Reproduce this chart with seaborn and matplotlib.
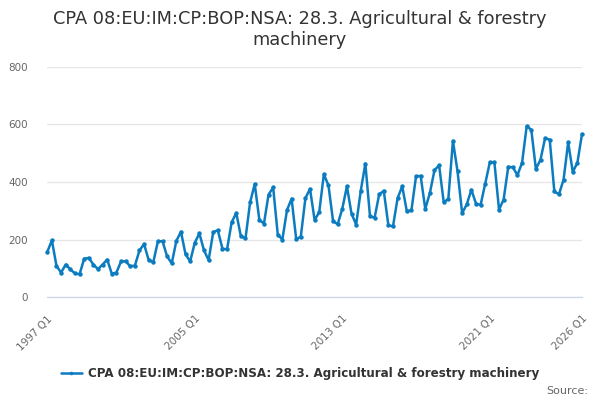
import numpy as np
import pandas as pd
import matplotlib
matplotlib.use("Agg")
import matplotlib.pyplot as plt
import seaborn as sns

# quarterly values, 1997 Q1 .. 2026 Q1
values = [
    157, 197, 108, 85, 113, 96, 82, 79,          # 1997-1998
    133, 136, 113, 97, 113, 130, 81, 85,         # 1999-2000
    124, 124, 107, 109, 162, 184, 128, 121,      # 2001-2002
    194, 194, 141, 117, 195, 227, 148, 124,      # 2003-2004
    189, 221, 162, 128, 226, 232, 168, 166,      # 2005-2006
    260, 292, 211, 204, 329, 393, 269, 255,      # 2007-2008
    356, 381, 217, 200, 302, 342, 201, 210,      # 2009-2010
    344, 376, 267, 296, 427, 388, 264, 253,      # 2011-2012
    307, 385, 290, 252, 369, 464, 282, 275,      # 2013-2014
    357, 369, 249, 246, 344, 385, 298, 302,      # 2015-2016
    420, 421, 306, 362, 441, 458, 330, 341,      # 2017-2018
    543, 437, 292, 322, 373, 325, 320, 394,      # 2019-2020
    468, 468, 304, 339, 453, 451, 424, 467,      # 2021-2022
    594, 582, 445, 478, 553, 547, 367, 357,      # 2023-2024
    408, 538, 435, 467,                          # 2025
    567,                                         # 2026 Q1
]
start_year = 1997
tick_years = [1997, 1999, 2001, 2003, 2005, 2007, 2009, 2011,
              2013, 2015, 2017, 2019, 2021, 2023, 2026]
label_years = [1997, 2005, 2013, 2021, 2026]
y_ticks = [0, 200, 400, 600, 800]

title = "CPA 08:EU:IM:CP:BOP:NSA: 28.3. Agricultural & forestry\nmachinery"
series_name = "CPA 08:EU:IM:CP:BOP:NSA: 28.3. Agricultural & forestry machinery"

df = pd.DataFrame({"q": np.arange(len(values)), "value": values})

sns.set_style("white")
plt.rcParams["font.family"] = ["DejaVu Sans"]

fig = plt.figure(figsize=(6, 4), dpi=100)
ax = fig.add_axes([0.0788, 0.2575, 0.8912, 0.575])

line_color = "#0c7cc0"
sns.lineplot(data=df, x="q", y="value", ax=ax, color=line_color, linewidth=1.8,
             marker="o", markersize=3.2, markeredgewidth=0, clip_on=False,
             label=series_name, legend=False)

ax.set_xlim(0, len(values) - 1)
ax.set_ylim(0, 800)
ax.set_yticks(y_ticks)
ax.set_yticklabels([str(v) for v in y_ticks], fontsize=7.5, color="#666666")
ax.grid(axis="y", color="#e6e6e6", linewidth=0.9)
ax.set_axisbelow(True)

tick_pos = [(y - start_year) * 4 for y in tick_years]
tick_lab = [f"{y} Q1" if y in label_years else "" for y in tick_years]
ax.set_xticks(tick_pos)
ax.set_xticklabels(tick_lab, fontsize=7.5, color="#666666", rotation=45,
                   ha="right", rotation_mode="anchor")
ax.tick_params(axis="x", length=9, width=0.9, color="#ccd6eb", pad=3)
ax.tick_params(axis="y", length=0, pad=14)

for side in ["top", "right", "left"]:
    ax.spines[side].set_visible(False)
ax.spines["bottom"].set_color("#ccd6eb")
ax.spines["bottom"].set_linewidth(0.9)
ax.set_xlabel("")
ax.set_ylabel("")

fig.suptitle(title, x=0.5, y=0.975, fontsize=12.8, color="#333333",
             linespacing=1.2)

handles, labels = ax.get_legend_handles_labels()
fig.legend(handles, labels, loc="center", bbox_to_anchor=(0.5, 0.067),
           frameon=False, prop={"weight": "bold", "size": 8.6},
           labelcolor="#333333", handlelength=1.8, handletextpad=0.5,
           markerscale=0.8)

fig.text(0.98, 0.022, "Source:", ha="right", va="center", fontsize=8,
         color="#666666")

fig.savefig("out.png", dpi=100)
